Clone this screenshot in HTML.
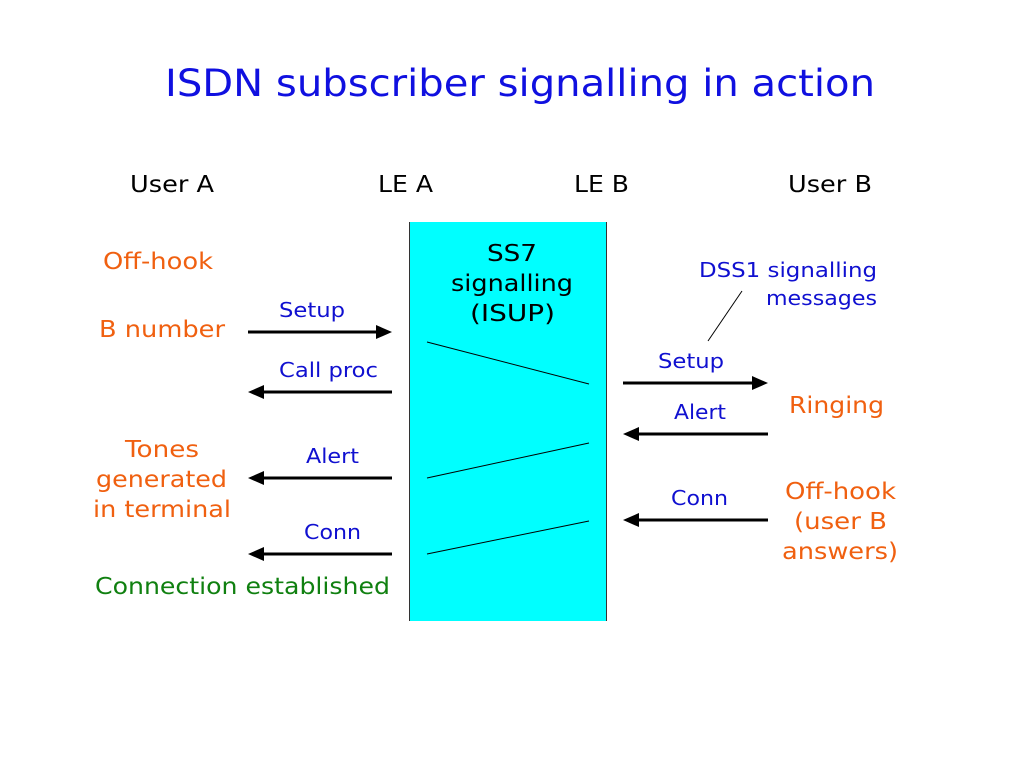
<!DOCTYPE html>
<html><head><meta charset="utf-8"><style>
html,body{margin:0;padding:0;background:#fff;}
svg{display:block;font-family:"DejaVu Sans","Liberation Sans",sans-serif;}
</style></head><body>
<svg width="1024" height="768" viewBox="0 0 1024 768" xmlns="http://www.w3.org/2000/svg">
<text x="165" y="96" font-size="37" fill="#1010E0" textLength="710" lengthAdjust="spacingAndGlyphs">ISDN subscriber signalling in action</text>
<g font-size="23" fill="#000">
<text x="130" y="192" textLength="84" lengthAdjust="spacingAndGlyphs">User A</text>
<text x="378" y="192" textLength="55" lengthAdjust="spacingAndGlyphs">LE A</text>
<text x="574" y="192" textLength="55" lengthAdjust="spacingAndGlyphs">LE B</text>
<text x="788" y="192" textLength="84" lengthAdjust="spacingAndGlyphs">User B</text>
</g>
<rect x="409" y="222" width="197" height="399" fill="#00FFFF"/>
<line x1="409.5" y1="222" x2="409.5" y2="621" stroke="#333" stroke-width="1"/>
<line x1="606.5" y1="222" x2="606.5" y2="621" stroke="#333" stroke-width="1"/>
<g font-size="23" fill="#000">
<text x="487" y="261" textLength="50" lengthAdjust="spacingAndGlyphs">SS7</text>
<text x="451" y="291" textLength="122" lengthAdjust="spacingAndGlyphs">signalling</text>
<text x="470" y="321" textLength="85" lengthAdjust="spacingAndGlyphs">(ISUP)</text>
</g>
<g stroke="#000" stroke-width="1">
<line x1="427" y1="342" x2="589" y2="384"/>
<line x1="427" y1="478" x2="589" y2="443"/>
<line x1="427" y1="554" x2="589" y2="521"/>
<line x1="742" y1="291" x2="708" y2="341"/>
</g>
<g stroke="#000" stroke-width="3" fill="none">
<path d="M248,332 L378,332"/>
<path d="M392,392 L262,392"/>
<path d="M392,478 L262,478"/>
<path d="M392,554 L262,554"/>
<path d="M623,383 L754,383"/>
<path d="M768,434 L637,434"/>
<path d="M768,520 L637,520"/>
</g>
<g fill="#000">
<path d="M392,332 L376,325 L376,339 z"/>
<path d="M248,392 L264,385 L264,399 z"/>
<path d="M248,478 L264,471 L264,485 z"/>
<path d="M248,554 L264,547 L264,561 z"/>
<path d="M768,383 L752,376 L752,390 z"/>
<path d="M623,434 L639,427 L639,441 z"/>
<path d="M623,520 L639,513 L639,527 z"/>
</g>
<g font-size="23" fill="#F06010" lengthAdjust="spacingAndGlyphs">
<text x="103" y="269" textLength="110" lengthAdjust="spacingAndGlyphs">Off-hook</text>
<text x="99" y="337" textLength="126" lengthAdjust="spacingAndGlyphs">B number</text>
<text x="125" y="457" textLength="74" lengthAdjust="spacingAndGlyphs">Tones</text>
<text x="96" y="487" textLength="131" lengthAdjust="spacingAndGlyphs">generated</text>
<text x="93" y="517" textLength="138" lengthAdjust="spacingAndGlyphs">in terminal</text>
<text x="789" y="413" textLength="95" lengthAdjust="spacingAndGlyphs">Ringing</text>
<text x="785" y="499" textLength="111" lengthAdjust="spacingAndGlyphs">Off-hook</text>
<text x="794" y="529" textLength="93" lengthAdjust="spacingAndGlyphs">(user B</text>
<text x="782" y="559" textLength="116" lengthAdjust="spacingAndGlyphs">answers)</text>
</g>
<text x="95" y="594" font-size="23" fill="#108010" textLength="295" lengthAdjust="spacingAndGlyphs">Connection established</text>
<g font-size="20" fill="#1010D0">
<text x="279" y="317" textLength="66" lengthAdjust="spacingAndGlyphs">Setup</text>
<text x="279" y="377" textLength="99" lengthAdjust="spacingAndGlyphs">Call proc</text>
<text x="306" y="463" textLength="53" lengthAdjust="spacingAndGlyphs">Alert</text>
<text x="304" y="539" textLength="57" lengthAdjust="spacingAndGlyphs">Conn</text>
<text x="658" y="368" textLength="66" lengthAdjust="spacingAndGlyphs">Setup</text>
<text x="674" y="419" textLength="52" lengthAdjust="spacingAndGlyphs">Alert</text>
<text x="671" y="505" textLength="57" lengthAdjust="spacingAndGlyphs">Conn</text>
<text x="699" y="277" textLength="178" lengthAdjust="spacingAndGlyphs">DSS1 signalling</text>
<text x="766" y="305" textLength="111" lengthAdjust="spacingAndGlyphs">messages</text>
</g>
</svg>
</body></html>
